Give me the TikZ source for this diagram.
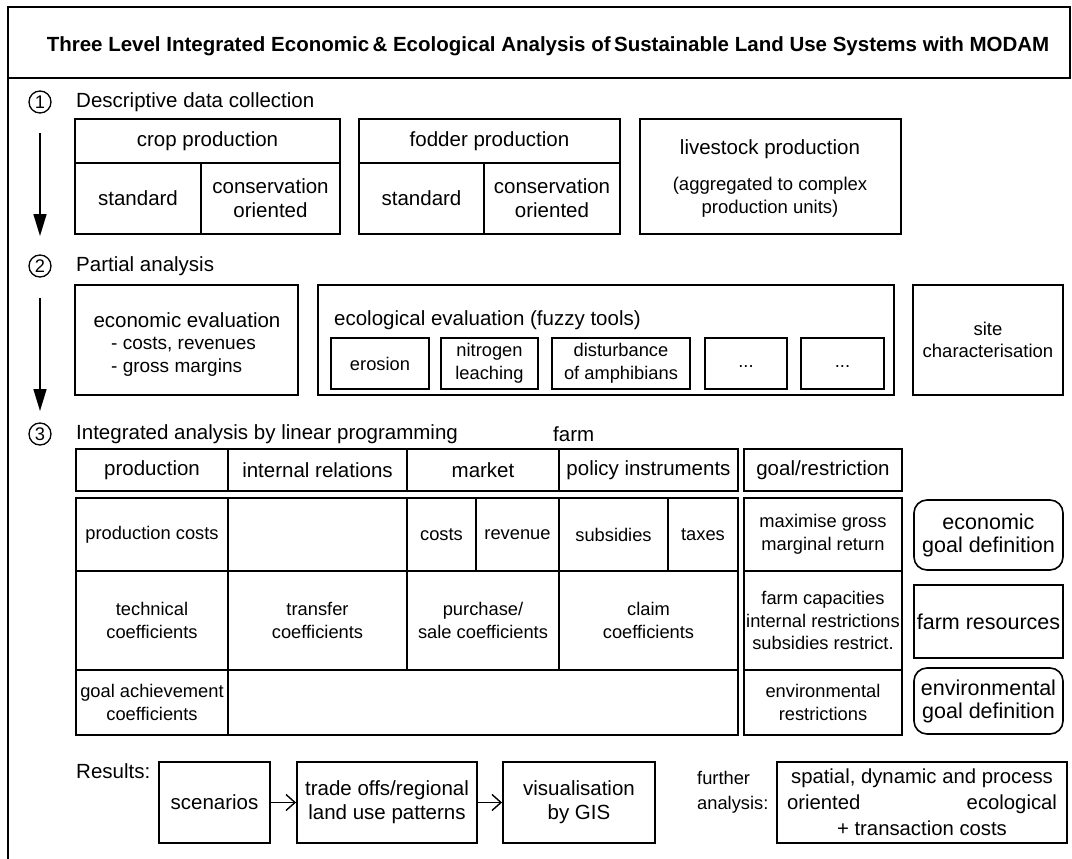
\documentclass[tikz,border=0pt]{standalone}
\usepackage{fontspec}
\setmainfont{Liberation Sans}
\usetikzlibrary{arrows.meta}
\newcommand\fsA{\fontsize{20.5}{24}\selectfont}
\newcommand\fsB{\fontsize{18.3}{22.7}\selectfont}
\newcommand\fsC{\fontsize{21.5}{23}\selectfont}
% a rectangular node covering the area (x1,y1)-(x2,y2)
\newcommand\cellat[7][]{%
  \node[cellbox,#1,minimum width={(#5)-(#3)},minimum height={(#6)-(#4)}]
    (#2) at ({((#3)+(#5))/2},{((#4)+(#6))/2}) {#7};}
\tikzset{
  cellbox/.style={draw, line width=1.9pt, inner sep=1pt, align=center, font=\fsB},
  big/.style={font=\fsA},
  hdr/.style={line width=1.4pt, font=\fsA},
  tbl/.style={line width=2.4pt},
  rbox/.style={rounded corners=13pt, line width=1.6pt, font=\fsC},
  plainbox/.style={line width=1.6pt, font=\fsC},
  txt/.style={inner sep=0pt, align=center},
  stepnum/.style={circle, draw, line width=1.3pt, minimum size=22pt, inner sep=0pt, font=\fsB},
  flow/.style={line width=1.6pt, -{Triangle[length=22pt,width=13pt]}},
  barb/.style={line width=1.4pt, -{Straight Barb[length=9pt,width=16pt]}},
}
\begin{document}
\begin{tikzpicture}[x=1pt,y=-1pt]
\useasboundingbox (0,0) rectangle (1072,859);
\fill[white] (0,0) rectangle (1072,859);

% outer frame and title bar
\draw[line width=1.5pt] (8,859) -- (8,7) -- (1070,7) -- (1070,78) -- (8,78);
\node[txt, font=\bfseries\fontsize{20.5}{24}\selectfont] (title) at (548,46)
  {Three Level Integrated Economic\,\& Ecological Analysis of\,Sustainable Land Use Systems with MODAM};

% ---- level 1 ----
\node[stepnum] (n1) at (40,102) {1};
\node[txt, anchor=west, font=\fsA] (l1) at (76,102) {Descriptive data collection};
\coordinate (a1s) at (40,133);
\coordinate (a1e) at (40,236);
\draw[flow] (a1s) -- (a1e);

\cellat[big]{crop}{75}{119}{340}{163}{crop production}
\cellat[big]{cropstd}{75}{163}{201}{234}{standard}
\cellat[big]{cropcons}{201}{163}{340}{234}{conservation\\oriented}
\cellat[big]{fodder}{359}{119}{620}{163}{fodder production}
\cellat[big]{fodstd}{359}{163}{484}{234}{standard}
\cellat[big]{fodcons}{484}{163}{620}{234}{conservation\\oriented}
\cellat{live}{640}{119}{901}{234}{}
\node[txt, font=\fsA] (liveT) at (770,149) {livestock production};
\node[txt, font=\fontsize{18.5}{23.5}\selectfont] (liveS) at (770,197) {(aggregated to complex\\production units)};

% ---- level 2 ----
\node[stepnum] (n2) at (40,266) {2};
\node[txt, anchor=west, font=\fsA] (l2) at (76,266) {Partial analysis};
\coordinate (a2s) at (40,298);
\coordinate (a2e) at (40,411);
\draw[flow] (a2s) -- (a2e);

\cellat{econ}{75}{285}{298}{395}{}
\node[txt, font=\fsA] (econT) at (187,320) {economic evaluation};
\node[txt, anchor=west, font=\fontsize{19}{23}\selectfont] (econA) at (111,345) {- costs, revenues};
\node[txt, anchor=west, font=\fontsize{19}{23}\selectfont] (econB) at (111,368) {- gross margins};

\cellat{eco}{318}{285}{894}{395}{}
\node[txt, anchor=west, font=\fsA] (ecoT) at (334,320) {ecological evaluation (fuzzy tools)};
\cellat{eros}{331}{338}{429}{389}{erosion}
\cellat{nitro}{441}{338}{538}{389}{nitrogen\\leaching}
\cellat{amph}{552}{338}{690}{389}{disturbance\\of amphibians}
\cellat{dotsA}{705}{338}{787}{389}{\vphantom{Ag}...}
\cellat{dotsB}{801}{338}{884}{389}{\vphantom{Ag}...}

\cellat[font=\fontsize{18.5}{21.5}\selectfont]{site}{913}{285}{1063}{395}{site\\characterisation}

% ---- level 3 ----
\node[stepnum] (n3) at (40,434) {3};
\node[txt, anchor=west, font=\fsA] (l3) at (76,434) {Integrated analysis by linear programming};
\node[txt, anchor=west, font=\fsA] (farm) at (553,434) {farm};

% column headings
\cellat[hdr]{hProd}{76}{449}{228}{491}{production}
\cellat[hdr]{hInt}{228}{449}{407}{491}{internal relations}
\cellat[hdr]{hMkt}{407}{449}{559}{491}{market}
\cellat[hdr]{hPol}{559}{449}{738}{491}{policy instruments}
\cellat[hdr]{hGoal}{744}{449}{902}{491}{goal/restriction}

% matrix body
\cellat[tbl]{pcost}{76}{498}{228}{571}{production costs}
\cellat[tbl]{intA}{228}{498}{407}{571}{}
\cellat[tbl]{mcost}{407}{498}{476}{571}{costs}
\cellat[tbl]{mrev}{476}{498}{559}{571}{revenue}
\cellat[tbl]{subs}{559}{498}{668}{571}{subsidies}
\cellat[tbl]{taxes}{668}{498}{738}{571}{taxes}

\cellat[tbl]{tech}{76}{571}{228}{670}{technical\\coefficients}
\cellat[tbl]{transf}{228}{571}{407}{670}{transfer\\coefficients}
\cellat[tbl]{purch}{407}{571}{559}{670}{purchase/\\sale coefficients}
\cellat[tbl]{claim}{559}{571}{738}{670}{claim\\coefficients}

\cellat[tbl]{gach}{76}{670}{228}{735}{goal achievement\\coefficients}
\cellat[tbl]{rest}{228}{670}{738}{735}{}

\cellat[tbl]{gMax}{744}{498}{902}{571}{maximise gross\\marginal return}
\cellat[tbl]{gCap}{744}{571}{902}{670}{farm capacities\\internal restrictions\\subsidies restrict.}
\cellat[tbl]{gEnv}{744}{670}{902}{735}{environmental\\restrictions}

\cellat[rbox]{ecoGoal}{914}{500}{1063}{570}{economic\\goal definition}
\cellat[plainbox]{farmRes}{914}{585}{1063}{658}{farm resources}
\cellat[rbox]{envGoal}{914}{668}{1063}{734}{environmental\\goal definition}

% ---- results ----
\node[txt, anchor=west, font=\fsA] (res) at (76,771) {Results:};
\cellat[big]{scen}{159}{762}{270}{843}{scenarios}
\cellat[big]{trade}{297}{762}{477}{843}{trade offs/regional\\land use patterns}
\cellat[big]{vis}{503}{762}{655}{843}{visualisation\\by GIS}
\draw[barb] (scen) -- (trade);
\draw[barb] (trade) -- (vis);

\node[txt, anchor=west, align=left, font=\fontsize{18.3}{25}\selectfont] (further) at (697,792) {further\\analysis:};
\cellat[font=\fontsize{20.3}{26}\selectfont]{spatial}{777}{762}{1067}{843}
  {spatial, dynamic and process\\\makebox[270pt]{oriented\hfill ecological}\\+ transaction costs}
\end{tikzpicture}
\end{document}
